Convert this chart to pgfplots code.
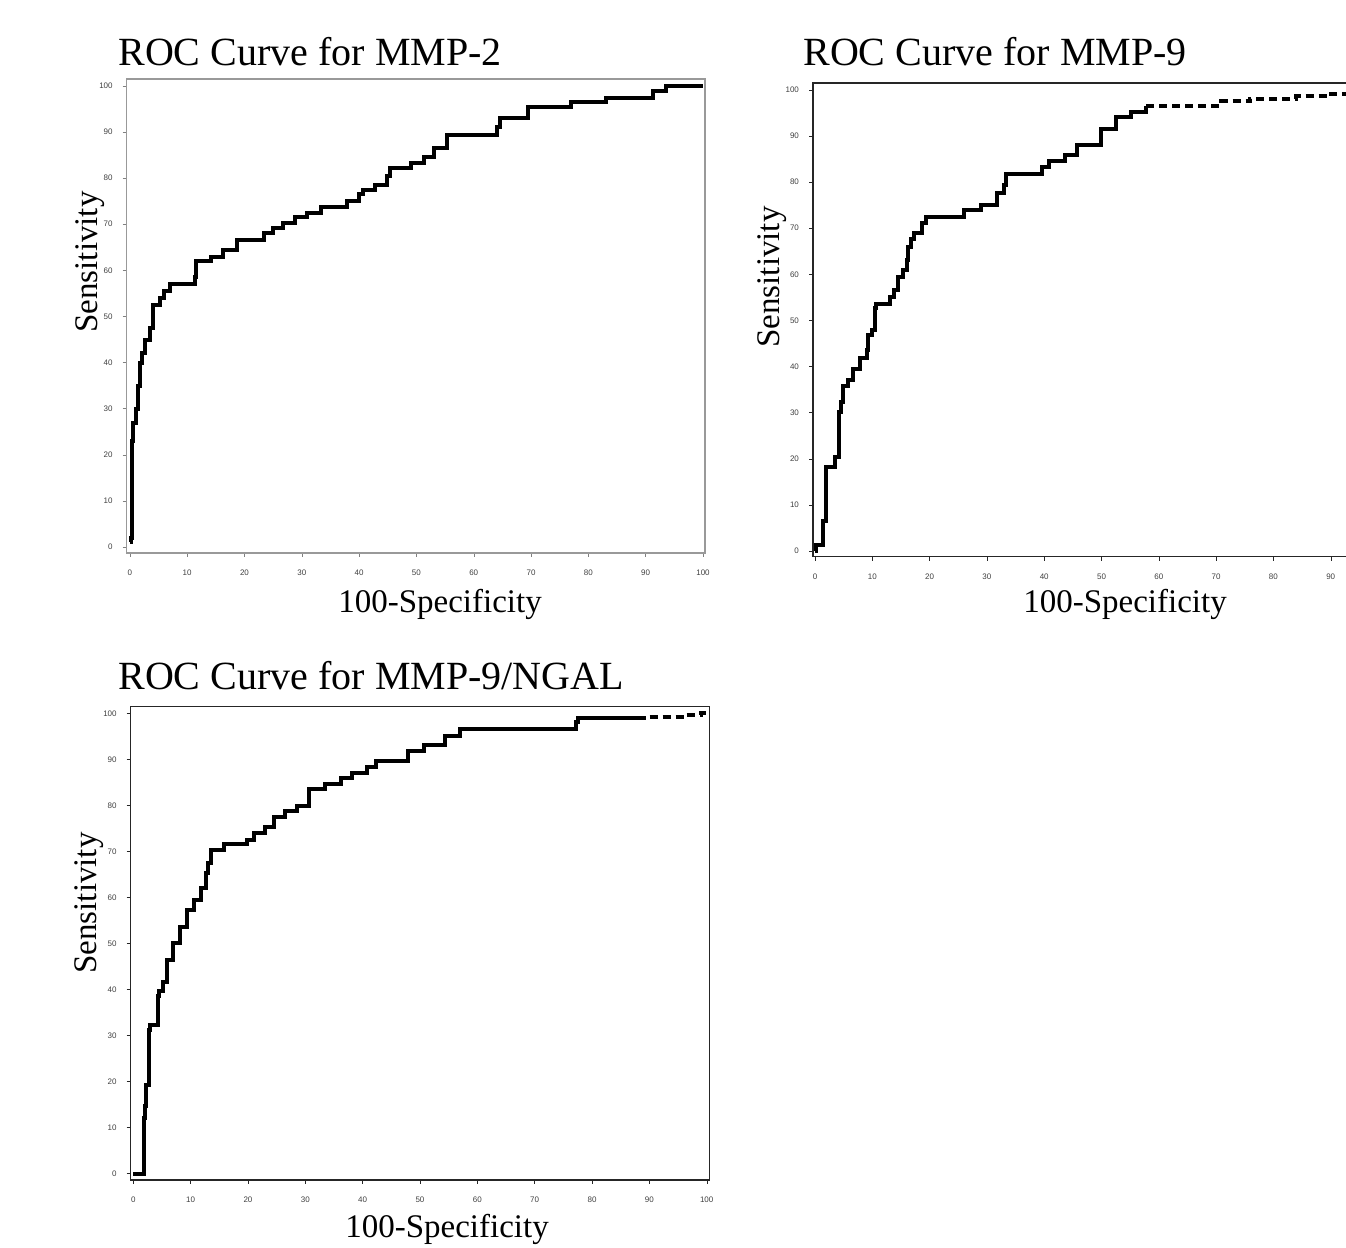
\documentclass[border=0pt]{standalone}
\usepackage{fontspec}
\setmainfont{Liberation Serif}
\newfontfamily\ticksf{Liberation Sans}
\usepackage{pgfplots}
\pgfplotsset{compat=1.18}

\pgfplotsset{
  rocaxis/.style={
    scale only axis, anchor=south west,
    xtick={0,10,...,100}, ytick={0,10,...,100},
    tick align=outside, tick pos=left, major tick length=2pt,
    ticklabel style={font=\ticksf\fontsize{4}{5}\selectfont, text=black!75},
    /pgf/number format/assume math mode=true,
    xticklabel style={yshift=-3pt},
    yticklabel style={xshift=-1.5pt},
    axis line style={line width=0.6pt},
    clip=false,
  },
  roc/.style={const plot, black, line width=2pt, no marks},
  roctail/.style={const plot, black, line width=2pt, no marks, dash pattern=on 4pt off 2.5pt},
}

\begin{document}
\begin{tikzpicture}
\useasboundingbox (0pt,0pt) rectangle (673pt,624pt);
\clip (0pt,0pt) rectangle (673pt,624pt);

% MMP-2
\begin{axis}[rocaxis, at={(63.35pt,347.5pt)}, width=289.15pt, height=237pt,
  xmin=-0.55, xmax=100.35, ymin=-1.3, ymax=101.5,
  axis line style={black!40}, tick style={black!50}]
\addplot[roc] coordinates {
  (0,1) (0.2,2) (0.3,7) (0.4,10) (0.45,23) (0.6,27) (1.0,30) (1.4,35)
  (1.7,40) (2.2,42) (2.6,45) (3.5,47.5) (4.1,52.5) (5.3,54) (5.9,55.5)
  (7.0,57) (11.3,58.5) (11.6,62) (14.2,63) (16.3,64.4) (18.7,66.6)
  (23.4,68) (25.0,69.1) (26.8,70.3) (28.8,71.5) (30.9,72.5) (33.4,73.8)
  (37.9,75.1) (39.9,76.5) (40.7,77.4) (42.7,78.5) (44.9,80.5) (45.4,82.1)
  (49.0,83.2) (51.4,84.5) (53.1,86.5) (55.4,89.4) (64.0,91) (64.5,93)
  (69.4,95.5) (77.0,96.5) (83.0,97.3) (91.3,99) (93.6,100) (100,100)
};
\end{axis}

% MMP-9 (right part runs past the picture's edge, as in the original)
\begin{axis}[rocaxis, at={(406.5pt,345.65pt)}, width=288.65pt, height=236.85pt,
  xmin=-0.35, xmax=100.4, ymin=-1.24, ymax=101.5, xtick={0,10,...,90},
  axis line style={black!85}, tick style={black!85}]
\addplot[roc] coordinates {
  (0,0) (0.2,1.3) (1.45,6.4) (2.0,18.3) (3.5,20.3) (4.1,25) (4.2,30.2)
  (4.6,32.4) (4.9,35.8) (5.8,37.1) (6.6,39.5) (7.8,41.8) (9.0,43.5)
  (9.2,46.9) (10.0,47.9) (10.4,52.6) (10.6,53.6) (13.0,55.1) (13.8,56.6)
  (14.5,59.5) (15.3,61) (16.0,63.1) (16.3,66) (16.8,67.6) (17.3,69.0)
  (18.6,71.1) (19.3,72.5) (26.0,74) (28.9,75.1) (31.8,77.6) (32.9,79.4)
  (33.3,81.8) (39.6,83.2) (40.8,84.6) (43.7,85.9) (45.8,88.1) (49.9,91.5)
  (52.6,94.2) (55.2,95.3) (57.8,96.5)
};
\addplot[roctail] coordinates {
  (57.8,96.5) (70.8,97.5) (76,98) (84,98.6) (90,99.2) (97,100) (100,100)
};
\end{axis}

% MMP-9/NGAL
\begin{axis}[rocaxis, at={(65.35pt,34pt)}, width=289.3pt, height=236.65pt,
  xmin=-0.45, xmax=100.45, ymin=-1.37, ymax=101.43,
  axis line style={black!85}, tick style={black!85}]
\addplot[roc] coordinates {
  (0,0) (1.9,12) (2.1,14.6) (2.3,19.3) (2.7,24) (2.8,31.2) (2.9,32.3)
  (4.3,38.5) (4.4,39.6) (5.2,41.7) (5.9,46.5) (7.0,50) (8.2,53.6)
  (9.3,57.3) (10.6,59.5) (11.8,62) (12.7,65.3) (13.1,67.5) (13.6,70.4)
  (15.8,71.6) (19.9,72.5) (21.0,74) (23.0,75.3) (24.5,77.5) (26.5,78.7)
  (28.5,79.9) (30.6,83.6) (33.4,84.7) (36.3,85.9) (38.1,87) (40.7,88.3)
  (42.4,89.6) (47.9,91.7) (50.7,93.2) (54.4,95) (57.0,96.5) (77.2,98.2)
  (77.6,99) (88,99)
};
\addplot[roctail] coordinates {
  (88,99) (90,99.3) (96,99.7) (99,100) (100,100)
};
\end{axis}

% titles and axis labels
\node[anchor=base west, font=\fontsize{20}{22}\selectfont, inner sep=0pt] at (59pt,591pt) {ROC Curve for MMP-2};
\node[anchor=base west, font=\fontsize{20}{22}\selectfont, inner sep=0pt] at (401.5pt,591pt) {ROC Curve for MMP-9};
\node[anchor=base west, font=\fontsize{20}{22}\selectfont, inner sep=0pt] at (59pt,279pt) {ROC Curve for MMP-9/NGAL};
\node[anchor=base, font=\fontsize{16.5}{19}\selectfont, inner sep=0pt] at (220pt,317.5pt) {100-Specificity};
\node[anchor=base, font=\fontsize{16.5}{19}\selectfont, inner sep=0pt] at (562.5pt,317.5pt) {100-Specificity};
\node[anchor=base, font=\fontsize{16.5}{19}\selectfont, inner sep=0pt] at (223.5pt,5pt) {100-Specificity};
\node[anchor=base, rotate=90, font=\fontsize{16.5}{19}\selectfont, inner sep=0pt] at (48.5pt,493pt) {Sensitivity};
\node[anchor=base, rotate=90, font=\fontsize{16.5}{19}\selectfont, inner sep=0pt] at (389.5pt,485.5pt) {Sensitivity};
\node[anchor=base, rotate=90, font=\fontsize{16.5}{19}\selectfont, inner sep=0pt] at (48pt,172.5pt) {Sensitivity};
\end{tikzpicture}
\end{document}
